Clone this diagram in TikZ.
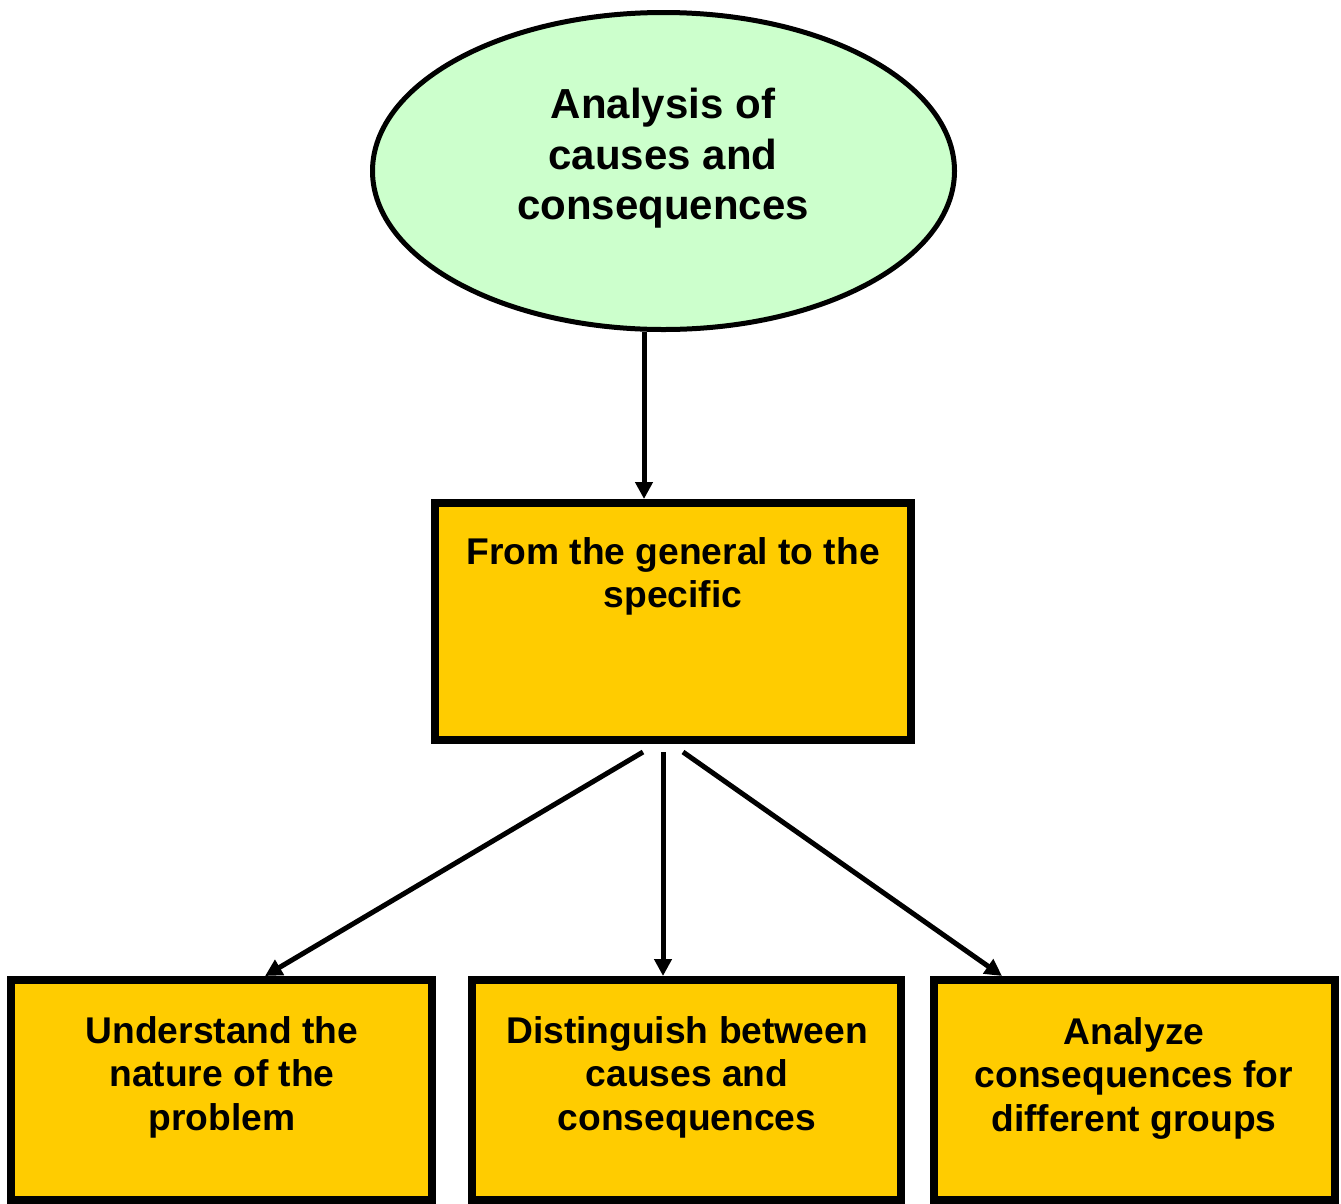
\documentclass[tikz,border=0pt]{standalone}
\usepackage{fontspec}
\setmainfont{Liberation Sans}
\usetikzlibrary{shapes.geometric,arrows.meta,calc}
\definecolor{lgreen}{HTML}{CCFFCC}
\definecolor{gold}{HTML}{FFCC00}
\tikzset{
  ybox/.style={draw=black, fill=gold, line width=8pt, rectangle, inner sep=0pt},
  bigtxt/.style={anchor=north, inner sep=0pt, align=center, font=\fontsize{42}{50.5}\selectfont\bfseries},
  txt/.style={anchor=north, inner sep=0pt, align=center, font=\fontsize{37.2}{43.8}\selectfont\bfseries},
  arr/.style={line width=5pt, -{Triangle[length=17pt,width=17pt]}},
}
\begin{document}
\begin{tikzpicture}[x=1pt,y=-1pt]
\useasboundingbox (0,0) rectangle (1341,1203);
\node[ellipse, draw=black, fill=lgreen, line width=5pt, inner sep=0pt,
      minimum width=582pt, minimum height=317pt] (top) at (663.5,171) {};
\node[bigtxt] (toptxt) at (663,88) {Analysis of\\causes and\\consequences};

\node[ybox, minimum width=476pt, minimum height=237pt] (mid) at (673,621.5) {};
\node[txt] (midtxt) at (673,537) {From the general to the\\specific};

\node[ybox, minimum width=421pt, minimum height=220pt] (b1) at (221.5,1090) {};
\node[ybox, minimum width=429pt, minimum height=220pt] (b2) at (686.5,1090) {};
\node[ybox, minimum width=401pt, minimum height=220pt] (b3) at (1134.5,1090) {};
\node[txt] (t1) at (222,1016) {Understand the\\nature of the\\problem};
\node[txt] (t2) at (687,1016) {Distinguish between\\causes and\\consequences};
\node[txt] (t3) at (1134,1017) {Analyze\\consequences for\\different groups};

\draw[arr] ($(top.south)+(-19.5,0)$) -- ($(mid.north)+(-29,0)$);
\draw[arr] ($(mid.south)+(-30,8)$) -- ($(b1.north)+(43.5,0)$);
\draw[arr] ($(mid.south)+(-10,8)$) -- ($(b2.north)+(-23.5,0)$);
\draw[arr] ($(mid.south)+(10,8)$) -- ($(b3.north)+(-132.5,0)$);
\end{tikzpicture}
\end{document}
